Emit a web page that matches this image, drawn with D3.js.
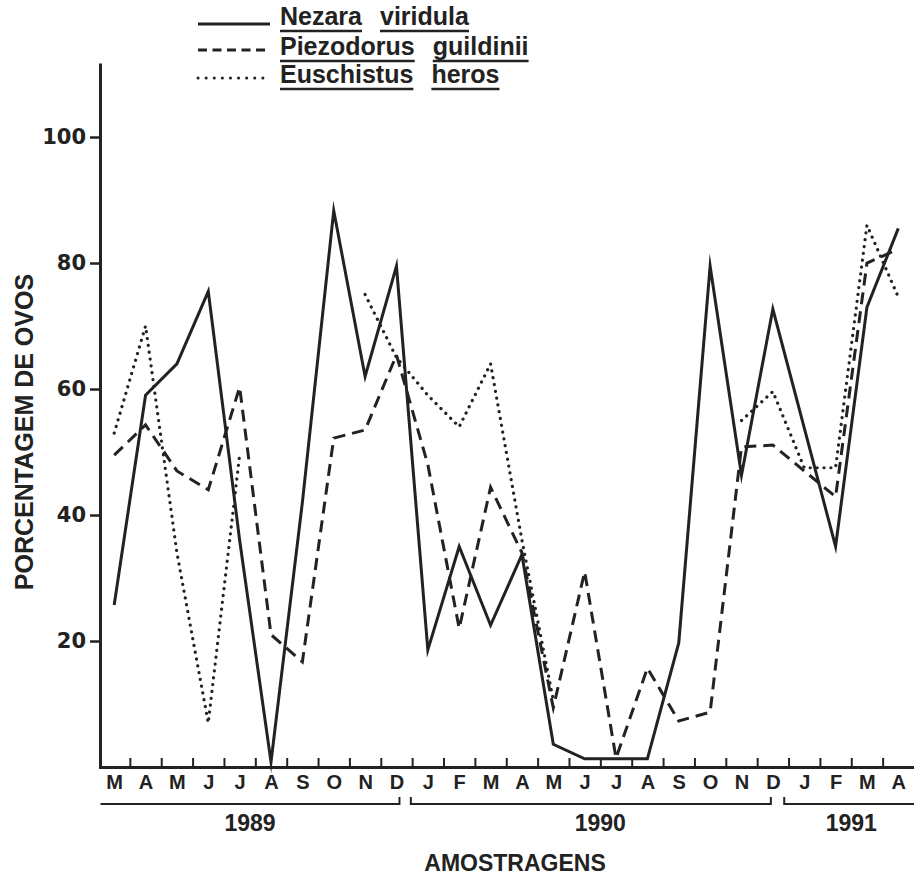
<!DOCTYPE html>
<html>
<head>
<meta charset="utf-8">
<script src="https://cdn.jsdelivr.net/npm/d3@7"></script>
<style>
  html, body { margin: 0; padding: 0; background: #fff; }
  svg { display: block; }
</style>
</head>
<body>
<svg id="chart" width="914" height="877"></svg>
<script>
// ---- data ----
const months = ["M","A","M","J","J","A","S","O","N","D","J","F","M","A","M","J","J","A","S","O","N","D","J","F","M","A"];
const years = ["1989", "1990", "1991"];
const yearStart = [0, 10, 22];
const yearEnd = [9, 21, 25];
const yTicks = [20, 40, 60, 80, 100];

const seriesNames = ["Nezara viridula", "Piezodorus guildinii", "Euschistus heros"];
const nezara     = [25.7, 59, 64, 75.5, 36, 0.8, 42, 88.3, 62, 79.5, 18.6, 35, 22.5, 33.7, 3.6, 1.3, 1.3, 1.3, 19.7, 79.5, 46.3, 72.7, null, 35, 73, 85.5];
const piezodorus = [49.5, 54.3, 47, 44, 60.3, 21, 16.7, 52.2, 53.5, 65.4, 48, 22, 44.4, 34, 9.4, 31, 1.4, 15.7, 7.3, 8.7, 50.8, 51.1, null, 42.9, 80, 82.2];
const euschistus = [53, 70, 34, 7, 49.5, null, null, null, 75, 65, 59, 54, 64, 36, 10.6, null, null, null, null, null, 55, 59.6, 47.5, 47.5, 86, 74.6];

// ---- layout ----
const svg = d3.select("#chart");
const ink = "#222";
const FONT = "'Liberation Sans', Arial, sans-serif";
const x = d3.scaleLinear().domain([0, 26]).range([98.5, 914]);
const y = d3.scaleLinear().domain([0, 111.75]).range([767, 63]);
const xc = i => x(i + 0.5);

// y axis
const gy = svg.append("g").attr("transform", "translate(100,0)")
  .call(d3.axisLeft(y).tickValues(yTicks).tickSize(10).tickSizeOuter(0).tickPadding(4));
gy.select(".domain").attr("stroke", ink).attr("stroke-width", 3);
gy.selectAll(".tick line").attr("stroke", ink).attr("stroke-width", 2.5);
gy.selectAll(".tick text").attr("fill", ink)
  .style("font-family", "'DejaVu Sans', sans-serif").style("font-size", "21px").style("font-weight", "bold");

// x axis (ticks at month boundaries, pointing inward)
const gx = svg.append("g").attr("transform", "translate(0,767)")
  .call(d3.axisBottom(x).tickValues(d3.range(1, 26)).tickSize(-9).tickSizeOuter(0).tickFormat(""));
gx.select(".domain").attr("stroke", ink).attr("stroke-width", 3);
gx.selectAll(".tick line").attr("stroke", ink).attr("stroke-width", 2);

// month labels
const gm = svg.append("g").attr("transform", "translate(0,767)")
  .call(d3.axisBottom(x).tickValues(d3.range(26).map(i => i + 0.5)).tickSize(0).tickPadding(8)
    .tickFormat(d => months[Math.round(d - 0.5)]));
gm.select(".domain").remove();
gm.selectAll(".tick text").attr("fill", ink)
  .style("font-family", FONT).style("font-size", "20px").style("font-weight", "bold");

// year brackets
const bracketY = 804;
const brackets = [
  { x0: x(0) + 2, x1: xc(9) + 3, lt: false, rt: true },
  { x0: xc(10) - 17, x1: xc(21) - 2, lt: true, rt: true },
  { x0: xc(22) - 20, x1: x(26), lt: true, rt: false }
];
brackets.forEach((b, i) => {
  let p = "";
  p += b.lt ? `M${b.x0},${bracketY - 7}L${b.x0},${bracketY}` : `M${b.x0},${bracketY}`;
  p += `L${b.x1},${bracketY}`;
  if (b.rt) p += `L${b.x1},${bracketY - 7}`;
  svg.append("path").attr("d", p).attr("fill", "none").attr("stroke", ink).attr("stroke-width", 2);
  const cx = i === 0 ? (b.x0 + b.x1) / 2 : (xc(yearStart[i]) + xc(yearEnd[i])) / 2;
  svg.append("text").attr("x", cx).attr("y", 831).attr("text-anchor", "middle").attr("fill", ink)
    .style("font-family", FONT).style("font-size", "23px").style("font-weight", "bold")
    .text(years[i]);
});

// axis titles
svg.append("text").attr("x", 515).attr("y", 871).attr("text-anchor", "middle").attr("fill", ink)
  .style("font-family", FONT).style("font-size", "23px").style("font-weight", "bold")
  .text("AMOSTRAGENS");
svg.append("text").attr("transform", "translate(33,432) rotate(-90)").attr("text-anchor", "middle").attr("fill", ink)
  .style("font-family", FONT).style("font-size", "25px").style("font-weight", "bold")
  .text("PORCENTAGEM DE OVOS");

// ---- series ----
const styles = [
  { data: nezara, dash: null, width: 3, connectGaps: true },
  { data: piezodorus, dash: "12,7", width: 3, connectGaps: true },
  { data: euschistus, dash: "0.1,6.8", width: 3.2, connectGaps: false, cap: "round" }
];
styles.forEach(s => {
  let pts = s.data.map((v, i) => ({ i, v }));
  if (s.connectGaps) pts = pts.filter(d => d.v !== null);
  const line = d3.line().defined(d => d.v !== null).x(d => xc(d.i)).y(d => y(d.v));
  svg.append("path").datum(pts).attr("d", line).attr("fill", "none")
    .attr("stroke", ink).attr("stroke-width", s.width)
    .attr("stroke-linejoin", "miter").attr("stroke-miterlimit", 10)
    .attr("stroke-linecap", s.cap || "butt")
    .attr("stroke-dasharray", s.dash);
});

// ---- legend ----
const legRows = [
  { lineY: 24, base: 25, dash: null, cap: "butt" },
  { lineY: 50, base: 55, dash: "9,5.5", cap: "butt" },
  { lineY: 78, base: 83, dash: "0.1,8", cap: "round" }
];
const legWords = [];
legRows.forEach((r, k) => {
  svg.append("line").attr("x1", 198).attr("x2", 270).attr("y1", r.lineY).attr("y2", r.lineY)
    .attr("stroke", ink).attr("stroke-width", 3).attr("stroke-dasharray", r.dash).attr("stroke-linecap", r.cap);
  seriesNames[k].split(" ").forEach(w => {
    const t = svg.append("text").attr("y", r.base).attr("fill", ink)
      .style("font-family", FONT).style("font-size", "25px").style("font-weight", "bold")
      .text(w);
    const u = svg.append("line").attr("y1", r.base + 6).attr("y2", r.base + 6)
      .attr("stroke", ink).attr("stroke-width", 2.5);
    legWords.push({ row: k, t, u });
  });
});
function layoutLegend() {
  const cursor = [280, 280, 280];
  legWords.forEach(d => {
    const cx = cursor[d.row];
    d.t.attr("x", cx);
    const wlen = d.t.node().getComputedTextLength();
    d.u.attr("x1", cx).attr("x2", cx + wlen);
    cursor[d.row] = cx + wlen + 18;
  });
}
layoutLegend();
if (document.fonts && document.fonts.load) {
  document.fonts.load("bold 25px 'Liberation Sans'").then(layoutLegend);
  document.fonts.ready.then(layoutLegend);
}
</script>
</body>
</html>
